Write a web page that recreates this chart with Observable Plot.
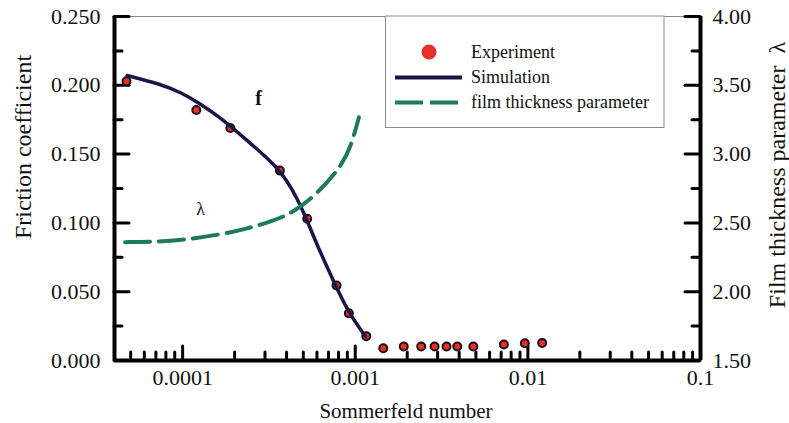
<!DOCTYPE html>
<html><head><meta charset="utf-8">
<script src="https://cdn.jsdelivr.net/npm/d3@7"></script>
<script src="https://cdn.jsdelivr.net/npm/@observablehq/plot@0.6"></script>
<style>body{margin:0;background:#fff} #chart{position:relative;width:789px;height:423px} svg text{font-family:"Liberation Serif",serif}</style>
</head><body><div id="chart"></div>
<script>
// Experiment: Sommerfeld number vs friction coefficient
const expS = [4.73e-5, 1.2e-4, 1.89e-4, 3.66e-4, 5.27e-4, 7.79e-4, 9.18e-4, 1.158e-3, 1.453e-3, 1.91e-3, 2.41e-3, 2.88e-3, 3.38e-3, 3.9e-3, 4.83e-3, 7.26e-3, 9.6e-3, 1.21e-2];
const expF = [0.203, 0.182, 0.169, 0.138, 0.103, 0.0545, 0.0344, 0.0177, 0.0089, 0.0102, 0.0102, 0.0102, 0.0102, 0.0102, 0.0102, 0.0116, 0.0126, 0.0128];
// Simulation curve
const simS = [4.77e-5, 7.44e-5, 9.72e-5, 1.269e-4, 1.657e-4, 2.366e-4, 2.954e-4, 3.531e-4, 4.035e-4, 4.61e-4, 5.27e-4, 6.02e-4, 7.69e-4, 9.18e-4, 1.147e-3];
const simF = [0.2071, 0.2009, 0.1950, 0.1866, 0.1764, 0.1599, 0.1493, 0.1399, 0.1305, 0.1177, 0.1017, 0.0836, 0.0545, 0.0344, 0.0174];
// Film thickness parameter lambda
const lamS = [4.64e-5, 6.47e-5, 9.72e-5, 1.657e-4, 2.366e-4, 3.376e-4, 4.405e-4, 6.02e-4, 8.24e-4, 9.42e-4, 1.05e-3];
const lamV = [2.36, 2.362, 2.372, 2.416, 2.457, 2.517, 2.578, 2.711, 2.905, 3.05, 3.268];

const xTickValues = [0.0001, 0.001, 0.01, 0.1];
const xTickLabels = ["0.0001", "0.001", "0.01", "0.1"];
const fTicks = [0, 0.05, 0.1, 0.15, 0.2, 0.25];
const lamTicks = [1.5, 2.0, 2.5, 3.0, 3.5, 4.0];
const xDomain = [4.03e-5, 0.1];
const fDomain = [0, 0.25];
const lamDomain = [1.5, 4.0];

const legendLabels = ["Experiment", "Simulation", "film thickness parameter"];
const annotations = [{s: 2.75e-4, f: 0.1904, text: "f", bold: true}, {s: 1.269e-4, f: 0.1102, text: "λ", bold: false}];

const lamToF = l => fDomain[0] + (l - lamDomain[0]) / (lamDomain[1] - lamDomain[0]) * (fDomain[1] - fDomain[0]);
const fToLam = f => lamDomain[0] + (f - fDomain[0]) / (fDomain[1] - fDomain[0]) * (lamDomain[1] - lamDomain[0]);

const exp = expS.map((s, i) => ({s, f: expF[i]}));
const sim = simS.map((s, i) => ({s, f: simF[i]}));
const lam = lamS.map((s, i) => ({s, f: lamToF(lamV[i])}));

const minorX = [];
for (let e = -5; e <= -2; e++) for (let m = 2; m <= 9; m++) {
  const v = m * Math.pow(10, e);
  if (v > xDomain[0] * 1.02 && v < xDomain[1]) minorX.push(v);
}
const majorX = xTickValues.filter(v => v < xDomain[1]);
const minorF = fTicks.slice(0, -1).map(v => v + 0.025);
const minorLam = lamTicks.slice(0, -1).map(v => v + 0.25);

const W = 789, H = 423, mL = 114, mR = 89, mT = 16, mB = 63;
const plotH = H - mT - mB, plotW = W - mL - mR;
const NAVY = "#1b1548", GREEN = "#1d7a5c", RED = "#e8302a";
const FONT = "Liberation Serif, serif";

const svg = Plot.plot({
  width: W, height: H, marginLeft: mL, marginRight: mR, marginTop: mT, marginBottom: mB,
  style: {fontFamily: FONT, fontSize: "22px", background: "white", color: "#111"},
  x: {type: "log", domain: xDomain},
  y: {domain: fDomain},
  marks: [
    Plot.ruleY([fDomain[1]], {stroke: "#8a8a8a", strokeWidth: 1}),
    Plot.tickX(minorX, {x: d => d, insetTop: plotH - 8, strokeWidth: 3, stroke: "#000", strokeLinecap: "round"}),
    Plot.tickX(majorX, {x: d => d, insetTop: plotH - 14, strokeWidth: 3, stroke: "#000", strokeLinecap: "round"}),
    Plot.tickY(minorF, {y: d => d, insetRight: plotW - 8, strokeWidth: 3, stroke: "#000", strokeLinecap: "round"}),
    Plot.tickY(fTicks, {y: d => d, insetRight: plotW - 15, strokeWidth: 3, stroke: "#000", strokeLinecap: "round"}),
    Plot.tickY(minorLam.map(lamToF), {y: d => d, insetLeft: plotW - 8, strokeWidth: 3, stroke: "#000", strokeLinecap: "round"}),
    Plot.tickY(lamTicks.map(lamToF), {y: d => d, insetLeft: plotW - 15, strokeWidth: 3, stroke: "#000", strokeLinecap: "round"}),
    Plot.ruleX(xDomain, {strokeWidth: 4, stroke: "#000"}),
    Plot.ruleY([fDomain[0]], {strokeWidth: 4, stroke: "#000"}),
    Plot.axisX(xTickValues, {tickSize: 0, tickPadding: 9, tickFormat: d => xTickLabels[xTickValues.indexOf(d)], label: null, fontSize: 22}),
    Plot.axisY(fTicks, {anchor: "left", tickSize: 0, tickPadding: 14, tickFormat: d3.format(".3f"), label: null, fontSize: 22}),
    Plot.axisY(lamTicks.map(lamToF), {anchor: "right", tickSize: 0, tickPadding: 12, tickFormat: d => fToLam(d).toFixed(2), label: null, fontSize: 22}),
    Plot.dot(exp, {x: "s", y: "f", r: 4, fill: RED, stroke: "#1a0f10", strokeWidth: 2}),
    Plot.line(sim, {x: "s", y: "f", stroke: NAVY, strokeWidth: 3.5, curve: "basis"}),
    Plot.line(lam, {x: "s", y: "f", stroke: GREEN, strokeWidth: 4, strokeDasharray: "25,9", curve: "basis"}),
    Plot.text(annotations.filter(d => d.bold), {x: "s", y: "f", text: "text", fontSize: 20, fontWeight: "bold", fill: "#111"}),
    Plot.text(annotations.filter(d => !d.bold), {x: "s", y: "f", text: "text", fontSize: 18, fill: "#111"})
  ]
});

const g = d3.select(svg);
// Axis titles
g.append("text").attr("transform", "translate(23,147) rotate(-90)")
  .attr("text-anchor", "middle").attr("dominant-baseline", "central")
  .attr("font-family", FONT).attr("font-size", 24).attr("fill", "#111").text("Friction coefficient");
g.append("text").attr("transform", "translate(777,175) rotate(-90)")
  .attr("text-anchor", "middle").attr("dominant-baseline", "central")
  .attr("font-family", FONT).attr("font-size", 24).attr("fill", "#111").text("Film thickness parameter  λ");
g.append("text").attr("x", 406).attr("y", 418)
  .attr("text-anchor", "middle")
  .attr("font-family", FONT).attr("font-size", 21).attr("fill", "#111").text("Sommerfeld number");

// Legend (inside plot, top right)
const lg = g.append("g");
lg.append("rect").attr("x", 385.5).attr("y", 16).attr("width", 278.5).attr("height", 111.5)
  .attr("fill", "white").attr("stroke", "#8a8a8a").attr("stroke-width", 1);
lg.append("circle").attr("cx", 429).attr("cy", 52).attr("r", 7.5).attr("fill", RED);
lg.append("line").attr("x1", 395).attr("x2", 462).attr("y1", 77.5).attr("y2", 77.5).attr("stroke", NAVY).attr("stroke-width", 4);
lg.append("line").attr("x1", 395).attr("x2", 462).attr("y1", 102.5).attr("y2", 102.5).attr("stroke", GREEN).attr("stroke-width", 4).attr("stroke-dasharray", "28,7");
legendLabels.forEach((t, i) => {
  lg.append("text").attr("x", 471).attr("y", 58 + i * 25).attr("text-anchor", "start")
    .attr("font-family", FONT).attr("font-size", 18).attr("fill", "#111").text(t);
});

document.getElementById("chart").appendChild(svg);
</script>
</body></html>
